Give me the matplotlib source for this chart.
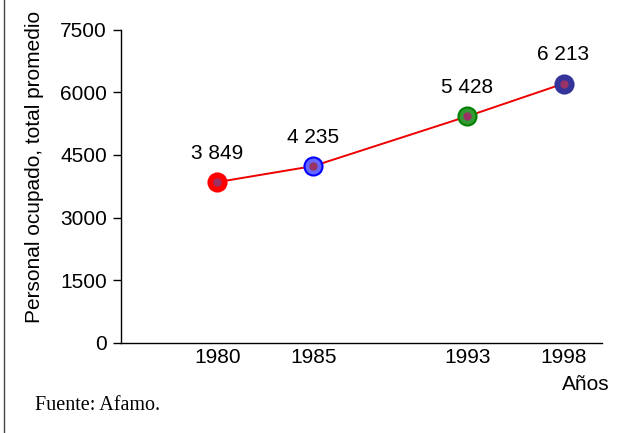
import matplotlib
matplotlib.use('Agg')
from matplotlib import pyplot as plt
from matplotlib.lines import Line2D

years = [1980, 1985, 1993, 1998]
personal = [3849, 4235, 5428, 6213]
labels = ['3 849', '4 235', '5 428', '6 213']
edge_colors = ['#ff0000', '#0000ff', '#008000', '#333399']
face_colors = ['#ff0000', '#6666ff', '#339933', '#333399']
y_ticks = [0, 1500, 3000, 4500, 6000, 7500]

plt.rcParams['font.family'] = ['Liberation Sans', 'DejaVu Sans']

fig = plt.figure(figsize=(6.42, 4.33), dpi=100)
ax = fig.add_axes([121/642, 1 - 342.5/433, (602 - 121)/642, (342.5 - 30)/433])

ax.plot(years, personal, color='#ee0000', linewidth=1.4, zorder=2)
for x, y, ec, fc, lab in zip(years, personal, edge_colors, face_colors, labels):
    ax.plot(x, y, 'o', markersize=13, markerfacecolor=fc, markeredgecolor=ec,
            markeredgewidth=1.5, zorder=3)
    ax.plot(x, y, 'o', markersize=6, color='#993366', markeredgewidth=0, zorder=4)
    ax.annotate(lab, (x, y), xytext=(0, 14), textcoords='offset points',
                ha='center', va='bottom', fontsize=15)

ax.set_xlim(1975, 2000)
ax.set_ylim(0, 7500)
ax.set_yticks(y_ticks)
ax.set_xticks(years)
ax.tick_params(axis='x', length=0, labelsize=15, pad=4)
ax.tick_params(axis='y', length=6, width=1, labelsize=15, pad=4)
for s in ['top', 'right']:
    ax.spines[s].set_visible(False)
ax.spines['left'].set_linewidth(1)
ax.spines['bottom'].set_linewidth(1)

fig.text(35/642, 1 - 167/433, 'Personal ocupado, total promedio', rotation=90,
         ha='center', va='center', fontsize=15)
fig.text(586/642, 1 - 385/433, 'Años', ha='center', va='center', fontsize=15)
fig.text(35/642, 1 - 405/433, 'Fuente: Afamo.', ha='left', va='center',
         fontsize=14.5, family=['Liberation Serif', 'DejaVu Serif'])

fig.add_artist(Line2D([3.5/642, 3.5/642], [0, 1], color='#444444', linewidth=1))

fig.savefig('out.png', dpi=100)
